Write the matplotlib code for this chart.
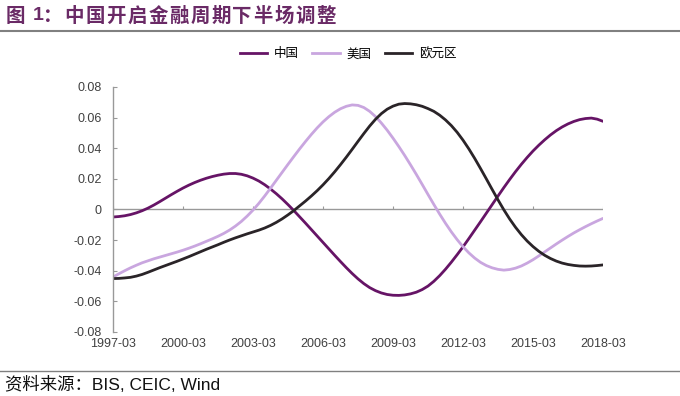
import numpy as np
import matplotlib.pyplot as plt
from matplotlib.lines import Line2D

plt.rcParams['font.family'] = ['Liberation Sans', 'Noto Sans CJK SC', 'DejaVu Sans']

# quarterly, 1997-03 .. 2018-03
years = list(range(1997, 2019, 3))
tick_labels = ['%d-03' % y for y in years]

china = [-0.0049, -0.0046, -0.0041, -0.0033, -0.0022, -0.0008, 0.0009, 0.0029, 0.0051, 0.0074,
         0.0097, 0.0119, 0.0140, 0.0159, 0.0176, 0.0191, 0.0204, 0.0215, 0.0224, 0.0231,
         0.0235, 0.0235, 0.0230, 0.0220, 0.0205, 0.0186, 0.0162, 0.0134, 0.0103, 0.0069,
         0.0032, -0.0007, -0.0048, -0.0089, -0.0131, -0.0173, -0.0215, -0.0257, -0.0299, -0.0340,
         -0.0380, -0.0418, -0.0453, -0.0484, -0.0510, -0.0530, -0.0545, -0.0555, -0.0560, -0.0561,
         -0.0558, -0.0551, -0.0540, -0.0523, -0.0500, -0.0469, -0.0432, -0.0390, -0.0344, -0.0295,
         -0.0244, -0.0190, -0.0135, -0.0080, -0.0024, 0.0032, 0.0088, 0.0143, 0.0196, 0.0247,
         0.0295, 0.0340, 0.0382, 0.0420, 0.0455, 0.0487, 0.0515, 0.0539, 0.0559, 0.0575,
         0.0587, 0.0594, 0.0597, 0.0590, 0.0576]

usa = [-0.0441, -0.0420, -0.0400, -0.0381, -0.0364, -0.0348, -0.0335, -0.0322, -0.0311, -0.0300,
       -0.0289, -0.0278, -0.0266, -0.0253, -0.0239, -0.0224, -0.0208, -0.0192, -0.0175, -0.0156,
       -0.0134, -0.0108, -0.0078, -0.0043, -0.0004, 0.0040, 0.0088, 0.0139, 0.0191, 0.0243,
       0.0295, 0.0346, 0.0396, 0.0444, 0.0490, 0.0533, 0.0572, 0.0606, 0.0635, 0.0658,
       0.0674, 0.0683, 0.0680, 0.0666, 0.0641, 0.0607, 0.0565, 0.0518, 0.0466, 0.0411,
       0.0353, 0.0292, 0.0229, 0.0164, 0.0098, 0.0033, -0.0030, -0.0090, -0.0146, -0.0197,
       -0.0243, -0.0283, -0.0317, -0.0345, -0.0366, -0.0381, -0.0391, -0.0396, -0.0392, -0.0383,
       -0.0369, -0.0350, -0.0328, -0.0303, -0.0277, -0.0251, -0.0225, -0.0200, -0.0176, -0.0153,
       -0.0132, -0.0112, -0.0093, -0.0075, -0.0058]

euro = [-0.0451, -0.0450, -0.0447, -0.0443, -0.0435, -0.0424, -0.0410, -0.0395, -0.0380, -0.0366,
        -0.0352, -0.0338, -0.0323, -0.0308, -0.0292, -0.0276, -0.0260, -0.0245, -0.0230, -0.0214,
        -0.0199, -0.0185, -0.0172, -0.0159, -0.0147, -0.0135, -0.0121, -0.0104, -0.0084, -0.0061,
        -0.0035, -0.0007, 0.0024, 0.0055, 0.0088, 0.0123, 0.0161, 0.0202, 0.0246, 0.0293,
        0.0342, 0.0393, 0.0445, 0.0496, 0.0545, 0.0589, 0.0626, 0.0655, 0.0675, 0.0688,
        0.0692, 0.0690, 0.0684, 0.0674, 0.0659, 0.0641, 0.0616, 0.0585, 0.0548, 0.0504,
        0.0453, 0.0396, 0.0334, 0.0268, 0.0200, 0.0131, 0.0063, -0.0002, -0.0062, -0.0116,
        -0.0164, -0.0206, -0.0242, -0.0273, -0.0299, -0.0320, -0.0337, -0.0350, -0.0359, -0.0365,
        -0.0369, -0.0370, -0.0369, -0.0366, -0.0362]

names = ['中国', '美国', '欧元区']
colors = ['#661466', '#c9a6df', '#2a2428']

fig = plt.figure(figsize=(6.8, 3.96), dpi=100)
W, H = 680, 396
ax = fig.add_axes([113 / W, 1 - 332 / H, 490 / W, 245 / H])

x = np.arange(len(china))
for s, c in zip([china, usa, euro], colors):
    ax.plot(x, s, color=c, lw=2.0, solid_capstyle='round')

ax.set_xlim(0, 84)
ax.set_ylim(-0.08, 0.08)
yt = np.arange(-0.08, 0.081, 0.02)
ax.set_yticks(yt)
ax.set_yticklabels(['0' if abs(v) < 1e-9 else '%.2f' % v for v in yt])
ax.set_xticks(np.arange(0, 85, 12))
ax.set_xticklabels(tick_labels)

for sp in ['top', 'right', 'bottom']:
    ax.spines[sp].set_visible(False)
ax.spines['left'].set_color('#999999')
ax.spines['left'].set_linewidth(1.0)
ax.tick_params(axis='y', direction='in', length=3, color='#999999', labelsize=9,
               labelcolor='#404040', pad=8)
ax.tick_params(axis='x', length=0, labelsize=9, labelcolor='#404040', pad=4)

# zero axis with small category ticks
ax.axhline(0, color='#999999', lw=1.0, zorder=1)
ax.vlines(np.arange(0, 85, 12), 0, 0.0022, color='#999999', lw=0.8, zorder=1)

# title, spaced out like the original
title = '图 1：中国开启金融周期下半场调整'
tcol = '#6a2a66'
ty = 1 - 16 / H
fig.text(15 / W, ty, '图', fontsize=14, color=tcol, fontweight='bold',
         ha='center', va='center', family=['Noto Sans CJK SC'])
fig.text(38 / W, ty, '1', fontsize=14, color=tcol, fontweight='bold',
         ha='center', va='center', family=['Liberation Sans'])
fig.text(53 / W, ty, '：', fontsize=14, color=tcol, fontweight='bold',
         ha='center', va='center', family=['Noto Sans CJK SC'])
for k, ch in enumerate(title[4:]):
    fig.text((74 + 21 * k) / W, ty, ch, fontsize=14, color=tcol, fontweight='bold',
             ha='center', va='center', family=['Noto Sans CJK SC'])

fig.add_artist(Line2D([0, 1], [1 - 31 / H, 1 - 31 / H], color='#808080', lw=1.5))
fig.add_artist(Line2D([0, 1], [1 - 371 / H, 1 - 371 / H], color='#808080', lw=1.0))
fig.text(5 / W, 1 - 384 / H, '资料来源：BIS, CEIC, Wind', fontsize=12.5, color='#111111',
         va='center', ha='left', family=['Liberation Sans', 'Noto Sans CJK SC'])

# legend
handles = [Line2D([], [], color=c, lw=2.0) for c in colors]
fig.legend(handles, names, loc='center', bbox_to_anchor=(348 / W, 1 - 54 / H), ncol=3,
           frameon=False, handlelength=2.2, columnspacing=1.1, handletextpad=0.5,
           prop={'family': ['Noto Sans CJK SC'], 'size': 9})

fig.savefig('out.png', dpi=100)
